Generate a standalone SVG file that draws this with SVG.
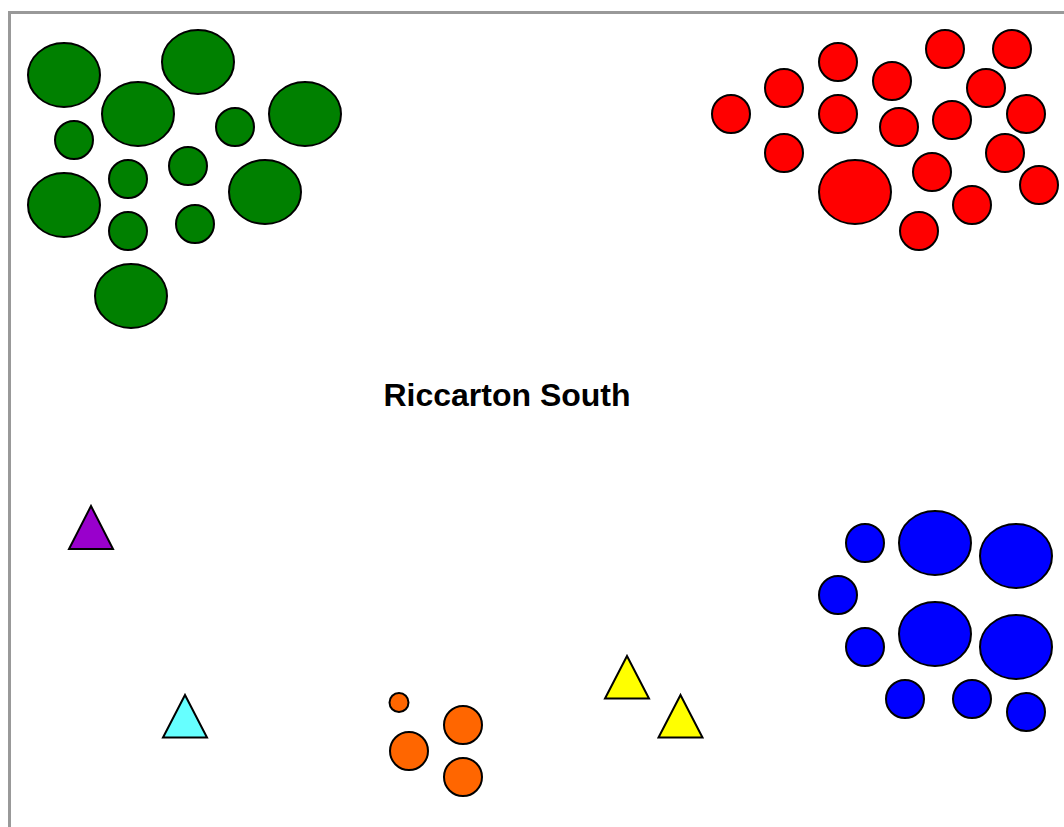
<svg xmlns="http://www.w3.org/2000/svg" width="1064" height="827" viewBox="0 0 1064 827">
<style>
.s{stroke:#000;stroke-width:2}
.g{fill:#008000}.r{fill:#ff0000}.b{fill:#0000ff}.o{fill:#ff6600}
.y{fill:#ffff00}.p{fill:#9900cc}.c{fill:#66ffff}
.lbl{font-family:"Liberation Sans",Arial,sans-serif;font-weight:bold;font-size:32px;fill:#000}
</style>
<rect x="0" y="0" width="1064" height="827" fill="#fff"/>
<rect x="9.5" y="12.5" width="1070" height="830" fill="none" stroke="#999" stroke-width="3"/>
<g id="green">
<ellipse class="s g" cx="64" cy="75" rx="36" ry="32"/>
<ellipse class="s g" cx="198" cy="62" rx="36" ry="32"/>
<ellipse class="s g" cx="138" cy="114" rx="36" ry="32"/>
<ellipse class="s g" cx="74" cy="140" rx="19" ry="19"/>
<ellipse class="s g" cx="235" cy="127" rx="19" ry="19"/>
<ellipse class="s g" cx="305" cy="114" rx="36" ry="32"/>
<ellipse class="s g" cx="128" cy="179" rx="19" ry="19"/>
<ellipse class="s g" cx="188" cy="166" rx="19" ry="19"/>
<ellipse class="s g" cx="64" cy="205" rx="36" ry="32"/>
<ellipse class="s g" cx="265" cy="192" rx="36" ry="32"/>
<ellipse class="s g" cx="128" cy="231" rx="19" ry="19"/>
<ellipse class="s g" cx="195" cy="224" rx="19" ry="19"/>
<ellipse class="s g" cx="131" cy="296" rx="36" ry="32"/>
</g>
<g id="red">
<ellipse class="s r" cx="731" cy="114" rx="19" ry="19"/>
<ellipse class="s r" cx="784" cy="88" rx="19" ry="19"/>
<ellipse class="s r" cx="838" cy="62" rx="19" ry="19"/>
<ellipse class="s r" cx="838" cy="114" rx="19" ry="19"/>
<ellipse class="s r" cx="784" cy="153" rx="19" ry="19"/>
<ellipse class="s r" cx="892" cy="81" rx="19" ry="19"/>
<ellipse class="s r" cx="945" cy="49" rx="19" ry="19"/>
<ellipse class="s r" cx="1012" cy="49" rx="19" ry="19"/>
<ellipse class="s r" cx="986" cy="88" rx="19" ry="19"/>
<ellipse class="s r" cx="899" cy="127" rx="19" ry="19"/>
<ellipse class="s r" cx="952" cy="120" rx="19" ry="19"/>
<ellipse class="s r" cx="1026" cy="114" rx="19" ry="19"/>
<ellipse class="s r" cx="1005" cy="153" rx="19" ry="19"/>
<ellipse class="s r" cx="855" cy="192" rx="36" ry="32"/>
<ellipse class="s r" cx="932" cy="172" rx="19" ry="19"/>
<ellipse class="s r" cx="1039" cy="185" rx="19" ry="19"/>
<ellipse class="s r" cx="972" cy="205" rx="19" ry="19"/>
<ellipse class="s r" cx="919" cy="231" rx="19" ry="19"/>
</g>
<g id="blue">
<ellipse class="s b" cx="865" cy="543" rx="19" ry="19"/>
<ellipse class="s b" cx="935" cy="543" rx="36" ry="32"/>
<ellipse class="s b" cx="1016" cy="556" rx="36" ry="32"/>
<ellipse class="s b" cx="838" cy="595" rx="19" ry="19"/>
<ellipse class="s b" cx="865" cy="647" rx="19" ry="19"/>
<ellipse class="s b" cx="935" cy="634" rx="36" ry="32"/>
<ellipse class="s b" cx="1016" cy="647" rx="36" ry="32"/>
<ellipse class="s b" cx="905" cy="699" rx="19" ry="19"/>
<ellipse class="s b" cx="972" cy="699" rx="19" ry="19"/>
<ellipse class="s b" cx="1026" cy="712" rx="19" ry="19"/>
</g>
<g id="orange">
<ellipse class="s o" cx="399" cy="702.5" rx="9.5" ry="9.5"/>
<ellipse class="s o" cx="463" cy="725" rx="19" ry="19"/>
<ellipse class="s o" cx="409" cy="751" rx="19" ry="19"/>
<ellipse class="s o" cx="463" cy="777" rx="19" ry="19"/>
</g>
<g id="tri-purple"><polygon class="s p" points="91,506 113,549 69,549"/></g>
<g id="tri-cyan"><polygon class="s c" points="185,695 207,737.5 163,737.5"/></g>
<g id="tri-yellow1"><polygon class="s y" points="627,656 649,698.5 605,698.5"/></g>
<g id="tri-yellow2"><polygon class="s y" points="680.5,695 702.5,737.5 658.5,737.5"/></g>
<g id="connectors"></g>
<text class="lbl" x="507" y="406" text-anchor="middle">Riccarton South</text>
</svg>
